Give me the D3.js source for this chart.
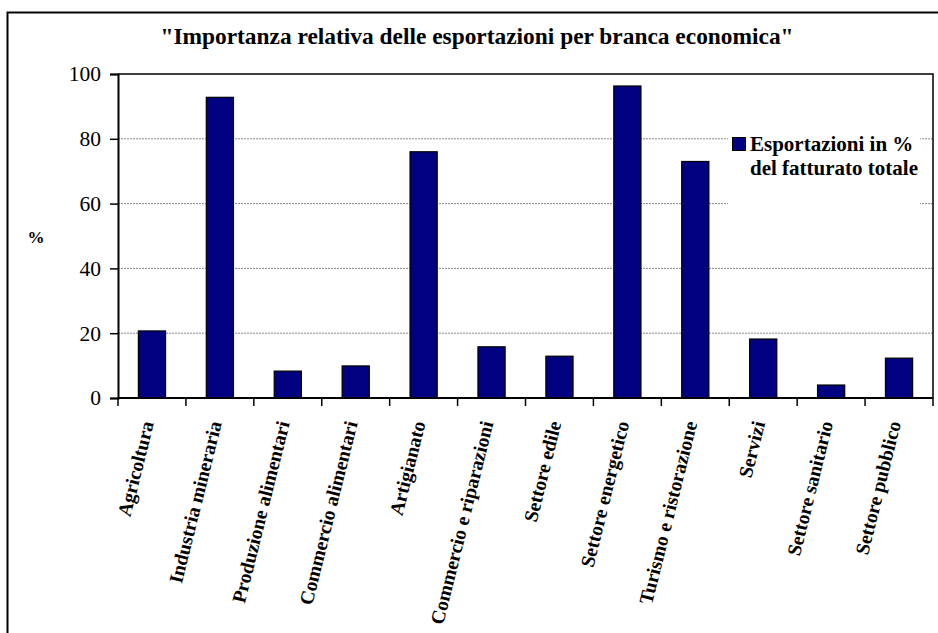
<!DOCTYPE html>
<html>
<head>
<meta charset="utf-8">
<script src="https://cdn.jsdelivr.net/npm/d3@7/dist/d3.min.js"></script>
<style>
  html, body { margin: 0; padding: 0; background: #fff; }
  svg { display: block; }
</style>
</head>
<body>
<svg id="chart" width="938" height="633"></svg>
<script>
// Categories (branche economiche) and export share of total turnover, %
const categories = [
  "Agricoltura", "Industria mineraria", "Produzione alimentari",
  "Commercio alimentari", "Artigianato", "Commercio e riparazioni",
  "Settore edile", "Settore energetico", "Turismo e ristorazione",
  "Servizi", "Settore sanitario", "Settore pubblico"
];
const exportShare = [20.7, 92.8, 8.3, 9.9, 76.0, 15.8, 12.9, 96.3, 73.0, 18.2, 4.0, 12.3];
const yTicks = [0, 20, 40, 60, 80, 100];
const titleText = "\"Importanza relativa delle esportazioni per branca economica\"";
const seriesName = ["Esportazioni in %", "del fatturato totale"];
const yAxisLabel = "%";

const FONT = "'Liberation Serif', 'DejaVu Serif', serif";
const svg = d3.select("#chart");
const W = 938, H = 633;
const plot = { left: 118, right: 933, top: 74, bottom: 398 };
const barColor = "#000080";

// outer frame
svg.append("rect")
  .attr("x", 7.5).attr("y", 12.5)
  .attr("width", W + 10).attr("height", H + 10)
  .attr("fill", "#fff").attr("stroke", "#000").attr("stroke-width", 2);

const x = d3.scaleBand()
  .domain(categories)
  .range([plot.left, plot.right])
  .paddingInner(0.6).paddingOuter(0.3);

const y = d3.scaleLinear().domain([0, 100]).range([plot.bottom, plot.top]);

// gridlines
svg.append("g")
  .selectAll("line")
  .data(yTicks.filter(t => t > 0 && t < 100))
  .join("line")
  .attr("x1", plot.left).attr("x2", plot.right)
  .attr("y1", d => y(d)).attr("y2", d => y(d))
  .attr("stroke", "#888").attr("stroke-width", 1)
  .attr("stroke-dasharray", "2,1");

// bars
svg.append("g")
  .selectAll("rect")
  .data(categories.map((c, i) => ({ c, v: exportShare[i] })))
  .join("rect")
  .attr("x", d => x(d.c))
  .attr("y", d => y(d.v))
  .attr("width", x.bandwidth())
  .attr("height", d => y(0) - y(d.v))
  .attr("fill", barColor)
  .attr("stroke", "#000").attr("stroke-width", 1.2);

// plot area border (top / right)
svg.append("path")
  .attr("d", `M${plot.left},${plot.top}H${plot.right}V${plot.bottom}`)
  .attr("fill", "none").attr("stroke", "#000").attr("stroke-width", 1.5);

// y axis
const yAxis = svg.append("g")
  .attr("transform", `translate(${plot.left},0)`)
  .call(d3.axisLeft(y).tickValues(yTicks).tickSize(8).tickPadding(9).tickFormat(d3.format("d")));
yAxis.select(".domain").attr("stroke", "#000").attr("stroke-width", 2);
yAxis.selectAll(".tick line").attr("stroke", "#000").attr("stroke-width", 1.5);
yAxis.selectAll(".tick text")
  .style("font-family", FONT)
  .style("font-size", "21.5px").attr("fill", "#000");

// x axis: ticks at category boundaries
const xAxisG = svg.append("g");
xAxisG.append("line")
  .attr("x1", plot.left).attr("x2", plot.right)
  .attr("y1", plot.bottom).attr("y2", plot.bottom)
  .attr("stroke", "#000").attr("stroke-width", 2);
const step = x.step();
const boundaries = d3.range(categories.length + 1).map(i => x(categories[0]) - x.paddingOuter() * step + i * step);
xAxisG.selectAll("line.tk")
  .data(boundaries)
  .join("line").attr("class", "tk")
  .attr("x1", d => d).attr("x2", d => d)
  .attr("y1", plot.bottom).attr("y2", plot.bottom + 8)
  .attr("stroke", "#000").attr("stroke-width", 1.5);

// rotated category labels
xAxisG.selectAll("text")
  .data(categories)
  .join("text")
  .attr("transform", d => `translate(${x(d) + x.bandwidth() / 2 + 2},${plot.bottom + 25}) rotate(-76)`)
  .attr("text-anchor", "end")
  .style("font-family", FONT)
  .style("font-size", "19.5px").style("font-weight", "bold")
  .text(d => d);

// title
svg.append("text")
  .attr("x", 477).attr("y", 44)
  .attr("text-anchor", "middle")
  .style("font-family", FONT)
  .style("font-size", "23.4px").style("font-weight", "bold")
  .text(titleText);

// y axis label
svg.append("text")
  .attr("x", 36).attr("y", 243)
  .attr("text-anchor", "middle")
  .style("font-family", FONT)
  .style("font-size", "17px").style("font-weight", "bold")
  .text(yAxisLabel);

// legend
const legend = svg.append("g");
legend.append("rect")
  .attr("x", 728).attr("y", 128).attr("width", 192).attr("height", 84)
  .attr("fill", "#fff");
legend.append("rect")
  .attr("x", 732.5).attr("y", 137.5).attr("width", 13).attr("height", 13)
  .attr("fill", barColor).attr("stroke", "#000").attr("stroke-width", 1);
legend.selectAll("text.lg")
  .data(seriesName)
  .join("text").attr("class", "lg")
  .attr("x", 750).attr("y", (d, i) => 151 + i * 24)
  .style("font-family", FONT)
  .style("font-size", "21px").style("font-weight", "bold")
  .text(d => d);
</script>
</body>
</html>
